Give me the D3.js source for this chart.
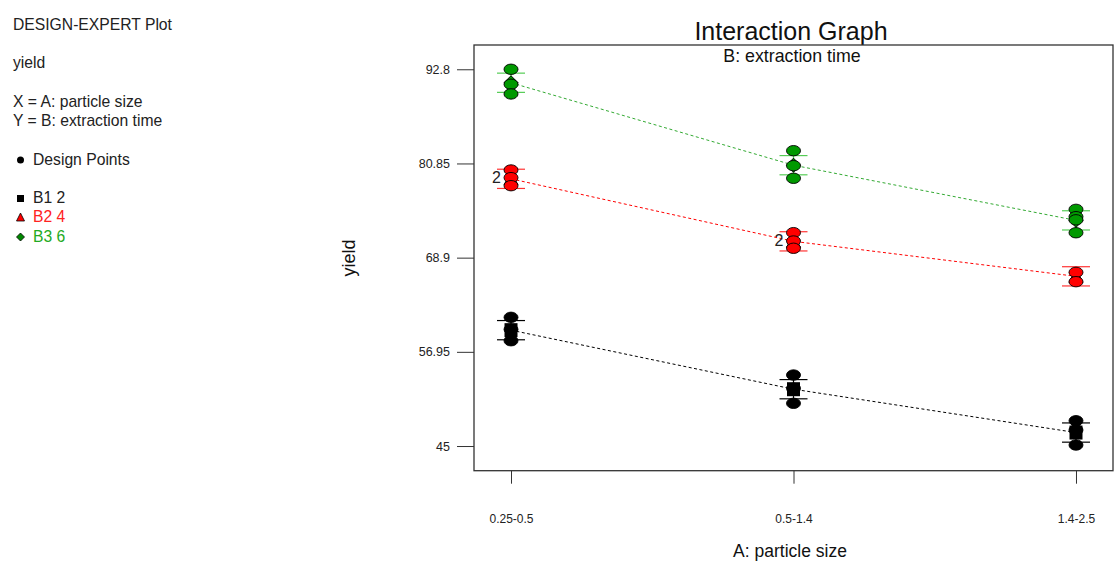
<!DOCTYPE html>
<html>
<head>
<meta charset="utf-8">
<script src="https://cdn.jsdelivr.net/npm/d3@7"></script>
<style>
  body { margin: 0; background: #fff; }
  svg { font-family: "Liberation Sans", Arial, sans-serif; }
</style>
</head>
<body>
<svg id="chart" width="1120" height="574"></svg>
<script>
// values
const categories = ["0.25-0.5", "0.5-1.4", "1.4-2.5"];
const yTicks = [45, 56.95, 68.9, 80.85, 92.8];

const b1Means = [59.70, 52.21, 46.71];
const b2Means = [78.90, 70.97, 66.53];
const b3Means = [91.09, 80.63, 73.63];
const lsdHalf = 1.22;

const b1Points = [[61.33, 59.8, 58.36], [54.01, 52.32, 50.42], [48.21, 47.03, 45.13]];
const b2Points = [[80.02, 79.05, 78.03], [72.07, 71.01, 70.09], [67.04, 65.85]];
const b3Points = [[92.8, 90.9, 89.67], [82.47, 80.57, 78.97], [75.03, 74.1, 73.7, 72.06]];

// replicate labels ("2") next to duplicated runs
const repeatLabels = [
    { series: "B2", cat: 0, value: 79.05, text: "2" },
    { series: "B2", cat: 1, value: 71.01, text: "2" },
];

const series = [
    { key: "B1", means: b1Means, points: b1Points, line: "#000", bar: "#000", fill: "#000", marker: "square" },
    { key: "B2", means: b2Means, points: b2Points, line: "#f00", bar: "#f33", fill: "#f00", marker: "triangle" },
    { key: "B3", means: b3Means, points: b3Points, line: "#3a3", bar: "#5c5", fill: "#090", marker: "diamond" },
];

const svg = d3.select("#chart");
const plotLeft = 474, plotRight = 1113, plotTop = 45, plotBottom = 470.7;

const x = d3.scalePoint().domain(categories).range([plotLeft, plotRight]).padding(0.131);
const y = d3.scaleLinear().domain([41.87, 95.88]).range([plotBottom, plotTop]);

// side panel text
const info = svg.append("g").attr("font-size", 15.7).attr("fill", "#222");
info.append("text").attr("x", 13).attr("y", 30).text("DESIGN-EXPERT Plot");
info.append("text").attr("x", 13).attr("y", 68).text("yield");
info.append("text").attr("x", 13).attr("y", 107).text("X = A: particle size");
info.append("text").attr("x", 13).attr("y", 126).text("Y = B: extraction time");
info.append("circle").attr("cx", 20.5).attr("cy", 160).attr("r", 3.5).attr("fill", "#000");
info.append("text").attr("x", 33).attr("y", 165).text("Design Points");
info.append("rect").attr("x", 17).attr("y", 195).attr("width", 7).attr("height", 7).attr("fill", "#000");
info.append("text").attr("x", 33).attr("y", 203).text("B1 2");
info.append("path").attr("d", "M20.5,213L24.5,221L16.5,221Z").attr("fill", "#f00").attr("stroke", "#000").attr("stroke-width", 0.8);
info.append("text").attr("x", 33).attr("y", 222).attr("fill", "#f22").text("B2 4");
info.append("path").attr("d", "M20.5,233L24.5,237L20.5,241L16.5,237Z").attr("fill", "#080").attr("stroke", "#000").attr("stroke-width", 0.8);
info.append("text").attr("x", 33).attr("y", 242).attr("fill", "#2a2").text("B3 6");

// titles
svg.append("text").attr("x", 791).attr("y", 40).attr("text-anchor", "middle")
    .attr("font-size", 25).attr("fill", "#111").text("Interaction Graph");
svg.append("text").attr("x", 792).attr("y", 62).attr("text-anchor", "middle")
    .attr("font-size", 17.8).attr("fill", "#111").text("B: extraction time");
svg.append("text").attr("x", 790).attr("y", 557).attr("text-anchor", "middle")
    .attr("font-size", 17.5).attr("fill", "#111").text("A: particle size");
svg.append("text").attr("transform", "translate(355,258) rotate(-90)").attr("text-anchor", "middle")
    .attr("font-size", 18).attr("fill", "#111").text("yield");

// axes
const yAxis = svg.append("g").attr("transform", `translate(${plotLeft},0)`)
    .call(d3.axisLeft(y).tickValues(yTicks).tickSize(17).tickPadding(7).tickFormat(d => String(d)));
const xAxis = svg.append("g").attr("transform", `translate(0,${plotBottom})`)
    .call(d3.axisBottom(x).tickSize(13).tickPadding(31));
[yAxis, xAxis].forEach(g => {
    g.select(".domain").remove();
    g.selectAll("line").attr("stroke", "#333");
    g.selectAll("text").attr("fill", "#222").attr("font-family", "Liberation Sans, Arial, sans-serif");
});
yAxis.selectAll("text").attr("font-size", 12.5);
xAxis.selectAll("text").attr("font-size", 12);

// plot frame
svg.append("rect").attr("x", plotLeft).attr("y", plotTop)
    .attr("width", plotRight - plotLeft).attr("height", plotBottom - plotTop)
    .attr("fill", "none").attr("stroke", "#333").attr("stroke-width", 1.3);

const plot = svg.append("g");

// dashed mean lines
const line = d3.line().x((d, i) => x(categories[i])).y(d => y(d));
series.forEach(s => {
    plot.append("path").attr("d", line(s.means)).attr("fill", "none")
        .attr("stroke", s.line).attr("stroke-width", 1).attr("stroke-dasharray", "3,2.5");
});

// LSD bars
series.forEach(s => {
    s.means.forEach((m, i) => {
        const cx = x(categories[i]);
        const g = plot.append("g").attr("stroke", s.bar).attr("stroke-width", 1.2);
        g.append("line").attr("x1", cx).attr("x2", cx).attr("y1", y(m + lsdHalf)).attr("y2", y(m - lsdHalf));
        g.append("line").attr("x1", cx - 14).attr("x2", cx + 14).attr("y1", y(m + lsdHalf)).attr("y2", y(m + lsdHalf));
        g.append("line").attr("x1", cx - 14).attr("x2", cx + 14).attr("y1", y(m - lsdHalf)).attr("y2", y(m - lsdHalf));
    });
});

// mean markers
series.forEach(s => {
    s.means.forEach((m, i) => {
        const cx = x(categories[i]), cy = y(m);
        if (s.marker === "square") {
            plot.append("rect").attr("x", cx - 6.5).attr("y", cy - 7).attr("width", 13).attr("height", 14).attr("fill", s.fill);
        } else if (s.marker === "triangle") {
            plot.append("path").attr("d", `M${cx},${cy - 7}L${cx + 7},${cy + 6}L${cx - 7},${cy + 6}Z`)
                .attr("fill", s.fill).attr("stroke", "#000");
        } else {
            plot.append("path").attr("d", `M${cx},${cy - 7}L${cx + 7},${cy}L${cx},${cy + 7}L${cx - 7},${cy}Z`)
                .attr("fill", s.fill).attr("stroke", "#000");
        }
    });
});

// design points
series.forEach(s => {
    s.points.forEach((pts, i) => {
        plot.selectAll(null).data(pts).enter().append("ellipse")
            .attr("cx", x(categories[i])).attr("cy", d => y(d))
            .attr("rx", 7).attr("ry", 5.2)
            .attr("fill", s.fill).attr("stroke", "#000").attr("stroke-width", 0.9);
    });
});

// replicate labels
plot.selectAll(null).data(repeatLabels).enter().append("text")
    .attr("x", d => x(categories[d.cat]) - 10).attr("y", d => y(d.value) + 5)
    .attr("text-anchor", "end").attr("font-size", 16).attr("fill", "#222")
    .text(d => d.text);
</script>
</body>
</html>
